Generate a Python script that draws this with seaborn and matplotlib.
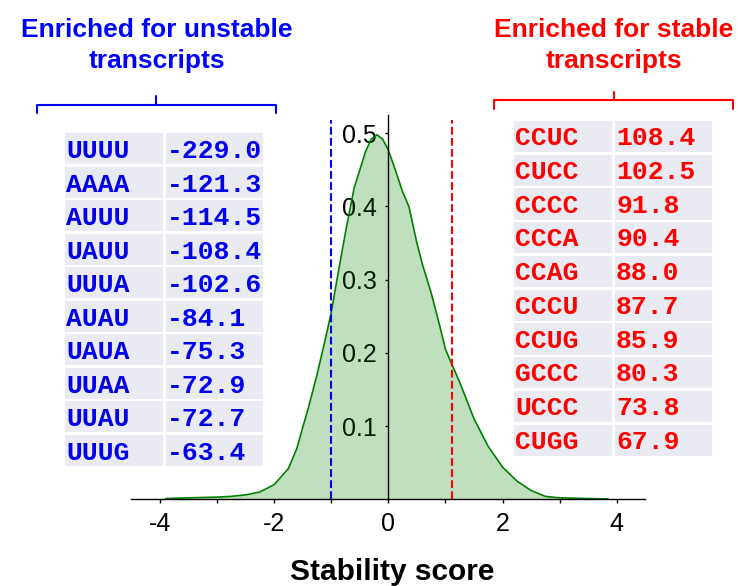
import matplotlib
matplotlib.use("Agg")
import matplotlib.pyplot as plt
from matplotlib.patches import Rectangle
import seaborn as sns
import pandas as pd

# ---------------- data ----------------
score_grid = [-3.9, -3.5, -3.0, -2.75, -2.5, -2.25, -2.0, -1.75, -1.6, -1.5, -1.4,
              -1.25, -1.1, -1.0, -0.9, -0.75, -0.6, -0.5, -0.4, -0.3, -0.2, -0.1,
              0.0, 0.1, 0.25, 0.36, 0.5, 0.6, 0.75, 0.9, 1.0, 1.12, 1.25, 1.5,
              1.75, 2.0, 2.25, 2.5, 2.75, 3.0, 3.5, 3.85]
density = [0.001, 0.002, 0.003, 0.004, 0.006, 0.010, 0.020, 0.042, 0.070, 0.098, 0.125,
           0.170, 0.220, 0.255, 0.300, 0.365, 0.425, 0.450, 0.475, 0.492, 0.498, 0.492,
           0.477, 0.455, 0.420, 0.400, 0.350, 0.320, 0.282, 0.237, 0.205, 0.183, 0.160, 0.110,
           0.072, 0.044, 0.025, 0.012, 0.004, 0.002, 0.001, 0.0005]

unstable_threshold = -1.0
stable_threshold = 1.12

unstable_kmers = ["UUUU", "AAAA", "AUUU", "UAUU", "UUUA", "AUAU", "UAUA", "UUAA", "UUAU", "UUUG"]
unstable_scores = [-229.0, -121.3, -114.5, -108.4, -102.6, -84.1, -75.3, -72.9, -72.7, -63.4]
stable_kmers = ["CCUC", "CUCC", "CCCC", "CCCA", "CCAG", "CCCU", "CCUG", "GCCC", "UCCC", "CUGG"]
stable_scores = [108.4, 102.5, 91.8, 90.4, 88.0, 87.7, 85.9, 80.3, 73.8, 67.9]

x_major_ticks = [-4, -2, 0, 2, 4]
x_minor_ticks = [-3, -1, 1, 3]
y_ticks = [0.1, 0.2, 0.3, 0.4, 0.5]
x_label = "Stability score"
unstable_title = ["Enriched for unstable", "transcripts"]
stable_title = ["Enriched for stable", "transcripts"]

# ---------------- style ----------------
sns.set_style("ticks", {"axes.edgecolor": "black", "xtick.color": "black",
                        "ytick.color": "black", "text.color": "black"})
plt.rcParams["font.family"] = ["Liberation Sans", "DejaVu Sans"]

W, H = 738, 586
fig = plt.figure(figsize=(W / 100, H / 100), dpi=100)

ax_l, ax_r, ax_b, ax_t = 131.4, 645.3, 499.3, 115.0
ax = fig.add_axes([ax_l / W, 1 - ax_b / H, (ax_r - ax_l) / W, (ax_b - ax_t) / H])

df = pd.DataFrame({"score": score_grid, "density": density})
ax.fill_between(df["score"], 0, df["density"], color="green", alpha=0.25, lw=0)
sns.lineplot(data=df, x="score", y="density", color="green", lw=1.2, ax=ax)

ax.plot([unstable_threshold] * 2, [0, 0.518], color="blue", ls="--", lw=1.5)
ax.plot([stable_threshold] * 2, [0, 0.518], color="red", ls="--", lw=1.5)

ax.set_xlim(-4.5, 4.5)
ax.set_ylim(0, 0.525)
ax.spines["top"].set_visible(False)
ax.spines["right"].set_visible(False)
ax.spines["left"].set_position(("data", 0))
for s in ("left", "bottom"):
    ax.spines[s].set_linewidth(1.0)
    ax.spines[s].set_color("black")

ax.set_xticks(x_major_ticks)
ax.set_xticklabels([str(t) for t in x_major_ticks])
ax.set_xticks(x_minor_ticks, minor=True)
ax.set_yticks(y_ticks)
ax.set_yticklabels([f"{t:.1f}" for t in y_ticks])
ax.tick_params(axis="x", which="both", length=3, width=1, direction="out", pad=6, labelsize=18)
ax.tick_params(axis="y", length=2.5, width=1, direction="out", pad=6, labelsize=18)
ax.set_xlabel("")
ax.set_ylabel("")

fig.text(392 / W, 1 - 580.5 / H, x_label, ha="center", va="baseline",
         fontsize=21.5, fontweight="bold")

# ---------------- overlay: tables, titles, brackets (pixel coords) ----------------
ov = fig.add_axes([0, 0, 1, 1], zorder=5)
ov.set_xlim(0, W)
ov.set_ylim(H, 0)
ov.axis("off")
ov.patch.set_alpha(0)

cell_color = "#EAEAF2"
mono = dict(family=["Liberation Mono", "DejaVu Sans Mono"], fontweight="bold", fontsize=19)


def draw_table(kmers, scores, color, col_x, top, step, base_off):
    for i, (k, v) in enumerate(zip(kmers, scores)):
        y0 = top + i * step
        for (x0, x1) in col_x:
            ov.add_patch(Rectangle((x0, y0), x1 - x0, step - 2.5, facecolor=cell_color,
                                   edgecolor="none"))
        ov.text(col_x[0][0] + 1, y0 + base_off, k, color=color, ha="left", va="baseline", **mono)
        ov.text(col_x[1][0] + 1, y0 + base_off, f"{v:.1f}", color=color, ha="left",
                va="baseline", **mono)


draw_table(unstable_kmers, unstable_scores, "#0000ee",
           [(65, 163.3), (166, 263.3)], 133.3, 33.5, 24.8)
draw_table(stable_kmers, stable_scores, "#ff0000",
           [(514, 611.7), (615, 712.3)], 121.0, 33.73, 24.3)

title_kw = dict(ha="center", va="baseline", fontsize=19, fontweight="bold")
ov.text(156.7, 36.7, unstable_title[0], color="#0000ff", **title_kw)
ov.text(156.7, 68.0, unstable_title[1], color="#0000ff", **title_kw)
ov.text(614.0, 36.7, stable_title[0], color="#ff0000", **title_kw)
ov.text(614.0, 68.3, stable_title[1], color="#ff0000", **title_kw)

# brackets
ov.plot([36.7, 36.7, 276, 276], [113.3, 105, 105, 113.3], color="#0000ff", lw=1.5)
ov.plot([156, 156], [105, 95.7], color="#0000ff", lw=1.5)
ov.plot([494, 494, 732.7, 732.7], [109, 100, 100, 109], color="#ff0000", lw=1.5)
ov.plot([614, 614], [100, 91.7], color="#ff0000", lw=1.5)

fig.savefig("out.png", dpi=100)
